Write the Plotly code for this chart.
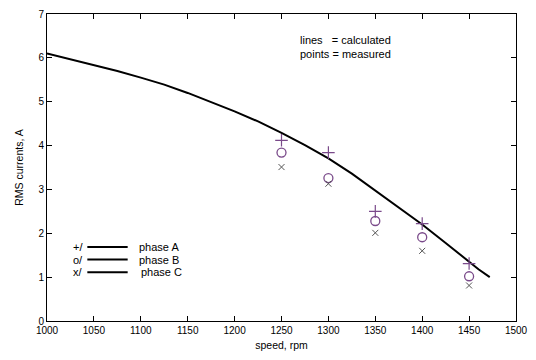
import plotly.graph_objects as go

# calculated curve
speed_calc = [1000, 1025, 1050, 1075, 1100, 1125, 1150, 1175, 1200, 1225, 1250,
              1275, 1300, 1325, 1350, 1375, 1400, 1425, 1450, 1460, 1472]
rms_calc = [6.10, 5.97, 5.83, 5.70, 5.55, 5.39, 5.20, 4.99, 4.78, 4.55, 4.29,
            4.01, 3.71, 3.36, 2.97, 2.58, 2.20, 1.78, 1.36, 1.18, 1.00]

# measured points
speed_meas = [1250, 1300, 1350, 1400, 1450]
phase_a = [4.12, 3.84, 2.50, 2.22, 1.31]
phase_b = [3.84, 3.26, 2.28, 1.91, 1.02]
phase_c = [3.51, 3.13, 2.01, 1.60, 0.81]

x_ticks = list(range(1000, 1501, 50))
y_ticks = list(range(0, 8))

legend_labels = ["phase A", "phase B", "phase C"]
legend_syms = ["+/", "o/", "x/"]
legend_y = [1.69, 1.40, 1.11]

purple = "#7a4a8a"
gray = "#555555"
font = "Liberation Sans, Arial, sans-serif"

fig = go.Figure()
fig.add_trace(go.Scatter(x=speed_calc, y=rms_calc, mode="lines",
                         line=dict(color="black", width=2),
                         showlegend=False))
fig.add_trace(go.Scatter(x=speed_meas, y=phase_a, mode="markers",
                         marker=dict(symbol="cross-thin-open", size=9, color=purple,
                                     line=dict(color=purple, width=1.2)),
                         showlegend=False))
fig.add_trace(go.Scatter(x=speed_meas, y=phase_b, mode="markers",
                         marker=dict(symbol="circle-open", size=9, color=purple,
                                     line=dict(color=purple, width=1.3)),
                         showlegend=False))
fig.add_trace(go.Scatter(x=speed_meas, y=phase_c, mode="markers",
                         marker=dict(symbol="x-thin-open", size=6, color=gray,
                                     line=dict(color=gray, width=1)),
                         showlegend=False))

for sym, lab, yy in zip(legend_syms, legend_labels, legend_y):
    fig.add_shape(type="line", xref="x", yref="y", x0=1043, x1=1086, y0=yy, y1=yy,
                  line=dict(color="black", width=2))
    fig.add_annotation(x=1040, y=yy, xref="x", yref="y", text=sym, showarrow=False,
                       xanchor="right", font=dict(family=font, size=11, color="black"))
    fig.add_annotation(x=1096 if lab != "phase C" else 1098, y=yy, xref="x", yref="y",
                       text=lab, showarrow=False, xanchor="left",
                       font=dict(family=font, size=11, color="black"))

fig.add_annotation(x=1268, y=6.40, xref="x", yref="y", text="lines   = calculated",
                   showarrow=False, xanchor="left",
                   font=dict(family=font, size=11, color="black"))
fig.add_annotation(x=1268, y=6.08, xref="x", yref="y", text="points = measured",
                   showarrow=False, xanchor="left",
                   font=dict(family=font, size=11, color="black"))

axis_common = dict(showgrid=False, zeroline=False, showline=True, linecolor="black",
                   linewidth=1, mirror="ticks", ticks="inside", ticklen=5,
                   tickcolor="black", tickfont=dict(family=font, size=10, color="black"))

fig.update_layout(
    width=536, height=360,
    margin=dict(l=47, r=19, t=8, b=39),
    paper_bgcolor="white", plot_bgcolor="white",
    xaxis=dict(range=[1000, 1500], tickvals=x_ticks,
               title=dict(text="speed, rpm", font=dict(family=font, size=10.5, color="black"),
                          standoff=6),
               **axis_common),
    yaxis=dict(range=[0, 7], tickvals=y_ticks,
               title=dict(text="RMS currents, A", font=dict(family=font, size=10.5, color="black"),
                          standoff=12),
               **axis_common),
)

fig.write_html("out.html")
